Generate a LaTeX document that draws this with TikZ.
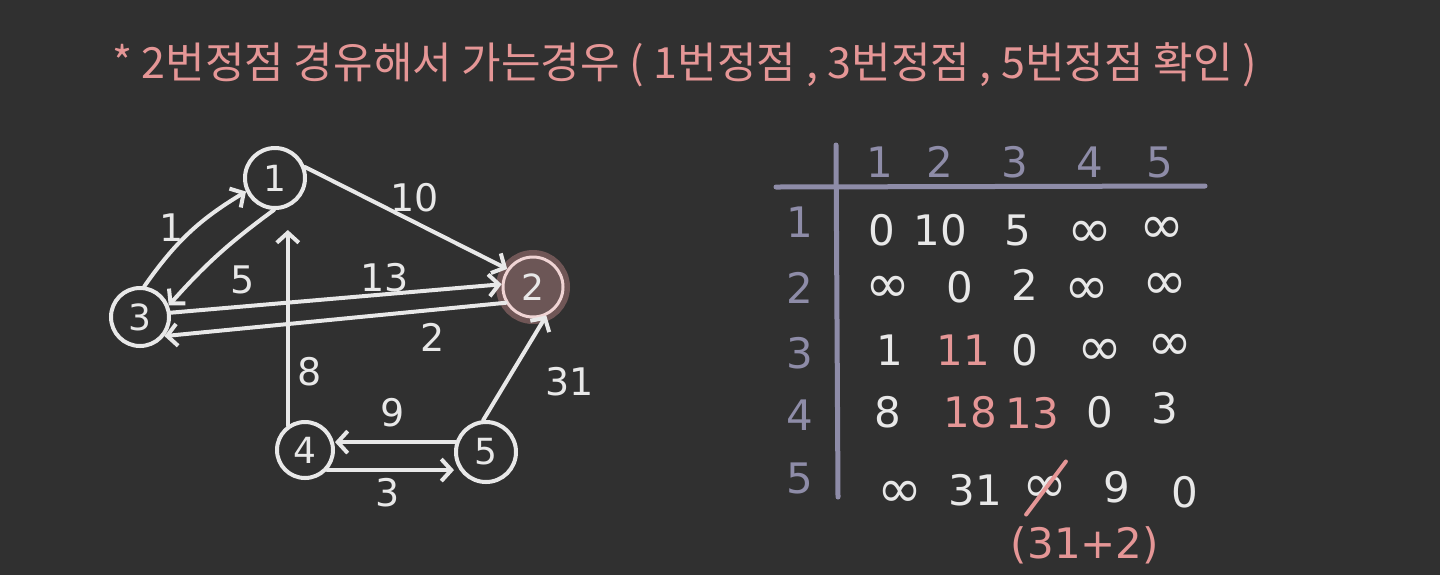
\documentclass[tikz,border=0pt]{standalone}
\usepackage{fontspec}
\setmainfont{DejaVu Sans}
\newfontfamily\kr{Noto Sans CJK KR}
\usetikzlibrary{arrows.meta,positioning}
\definecolor{board}{RGB}{48,48,48}
\definecolor{chalk}{RGB}{232,232,232}
\definecolor{rose}{RGB}{229,150,150}
\definecolor{lilac}{RGB}{142,140,168}
\definecolor{hub}{RGB}{108,86,86}
\definecolor{halo}{RGB}{112,86,86}
\definecolor{ring}{RGB}{240,212,212}

\begin{document}
\begin{tikzpicture}[x=0.5pt,y=-0.5pt,>={Straight Barb[length=5pt,width=11pt]},
  vtx/.style={draw=chalk,circle,line width=2pt,minimum size=30pt,inner sep=0pt,text=chalk,font=\fontsize{18}{18}\selectfont},
  edge/.style={->,draw=chalk,line width=2pt,line cap=round},
  wt/.style={text=chalk,font=\fontsize{19}{19}\selectfont},
  hd/.style={text=lilac,font=\fontsize{21}{21}\selectfont},
  cell/.style={text=chalk,font=\fontsize{21}{21}\selectfont},
  inf/.style={text=chalk,inner sep=0pt,font=\fontsize{27}{27}\selectfont},
  hot/.style={text=rose,font=\fontsize{21}{21}\selectfont}]
\fill[board] (0,0) rectangle (1440,575);
\node[text=rose,anchor=west,font=\kr\fontsize{21.5}{21.5}\selectfont] (title) at (105,65) {* 2번정점 경유해서 가는경우 ( 1번정점 , 3번정점 , 5번정점 확인 )};

% graph
\node[vtx] (n1) at (275,178) {1};
\node[vtx,fill=hub,draw=ring,line width=1.5pt,preaction={draw=halo,line width=7pt}] (n2) at (533,287) {2};
\node[vtx,minimum size=29pt] (n3) at (140,317) {3};
\node[vtx,minimum size=28pt] (n4) at (305,450) {4};
\node[vtx] (n5) at (486,452) {5};
\draw[edge] (n3.82) to[bend left=12] (n1.205);
\draw[edge] (n1.268) to[bend right=6] (n3.22);
\draw[edge] (n1.20) -- (n2.145);
\draw[edge] (n3.8) -- (n2.175);
\draw[edge] (n2.210) -- (n3.-38);
\draw[edge,shorten >=10pt] (n4.125) -- (n4.125 |- n1.south);
\draw[edge] (n5.162) -- (n5.162 -| n4.east);
\draw[edge] (n4.-42) -- (n4.-42 -| n5.west);
\draw[edge] (n5.95) -- (n2.-65);
\node[wt] (w31) at (172,228) {1};
\node[wt] (w13) at (243,280) {5};
\node[wt] (w12) at (415,198) {10};
\node[wt] (w32) at (385,278) {13};
\node[wt] (w23) at (433,337) {2};
\node[wt] (w41) at (310,372) {8};
\node[wt] (w54) at (393,413) {9};
\node[wt] (w45) at (388,493) {3};
\node[wt] (w52) at (570,382) {31};

% distance table
\draw[lilac,line width=2.5pt,line cap=round] (836,145) -- (838,497);
\draw[lilac,line width=2.5pt,line cap=round] (776,187) -- (1205,186);
\foreach \c/\x in {1/880,2/940,3/1015,4/1090,5/1160}
  \node[hd] (col\c) at (\x,162) {\c};
\foreach \r/\y in {1/222,2/288,3/353,4/415,5/478}
  \node[hd] (row\r) at (800,\y) {\r};
\node[cell] (c11) at (882,230) {0};
\node[cell] (c12) at (940,230) {10};
\node[cell] (c13) at (1018,230) {5};
\node[inf] (c14) at (1090,234) {∞};
\node[inf] (c15) at (1162,230) {∞};
\node[inf] (c21) at (888,289) {∞};
\node[cell] (c22) at (960,287) {0};
\node[cell] (c23) at (1025,285) {2};
\node[inf] (c24) at (1087,291) {∞};
\node[inf] (c25) at (1165,286) {∞};
\node[cell] (c31) at (890,350) {1};
\node[hot] (c32) at (963,350) {11};
\node[cell] (c33) at (1025,350) {0};
\node[inf] (c34) at (1100,352) {∞};
\node[inf] (c35) at (1170,347) {∞};
\node[cell] (c41) at (888,412) {8};
\node[hot] (c42) at (970,412) {18};
\node[hot] (c43) at (1032,413) {13};
\node[cell] (c44) at (1100,412) {0};
\node[cell] (c45) at (1165,408) {3};
\node[inf] (c51) at (900,494) {∞};
\node[cell] (c52) at (975,490) {31};
\node[inf] (c53) at (1045,489) {∞};
\node[cell] (c54) at (1117,487) {9};
\node[cell] (c55) at (1185,492) {0};
\draw[rose,line width=2pt,line cap=round] ([shift={(2pt,-6pt)}]c53.south west) -- ([shift={(-1pt,7pt)}]c53.north east);
\node[hot] (sum) at (1085,545) {(31+2)};
\end{tikzpicture}
\end{document}
